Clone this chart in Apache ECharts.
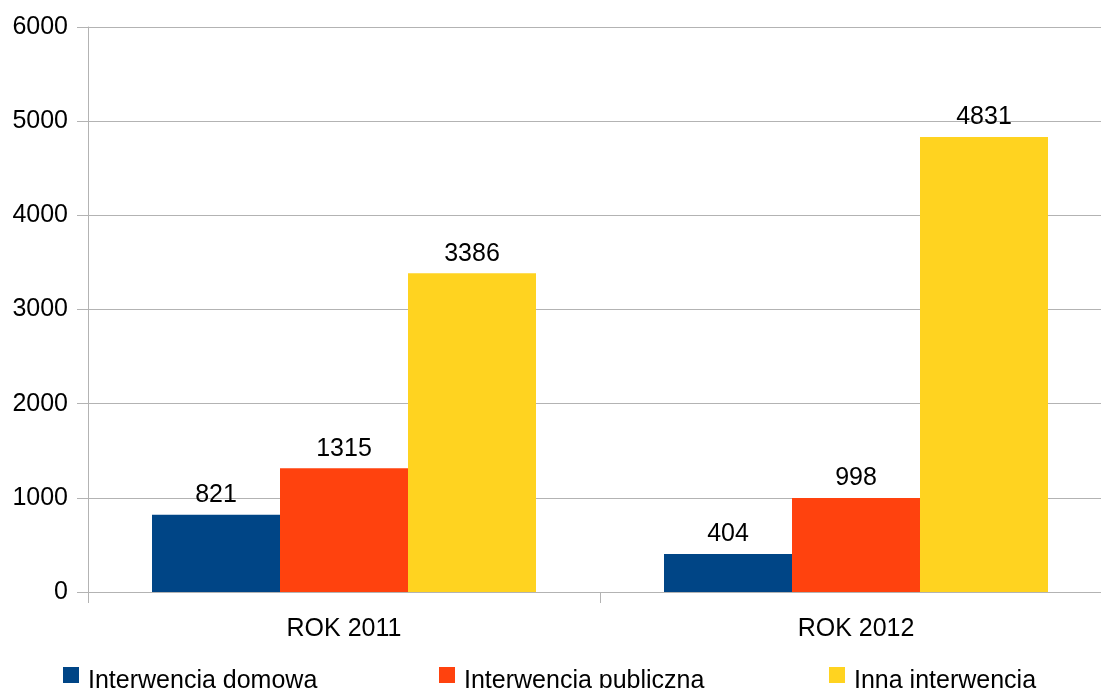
<!DOCTYPE html>
<html>
<head>
<meta charset="utf-8">
<script src="https://cdn.jsdelivr.net/npm/echarts@6/dist/echarts.min.js"></script>
<style>
html,body{margin:0;padding:0;background:#fff;}
#chart{width:1101px;height:688px;}
</style>
</head>
<body>
<div id="chart"></div>
<script>
var categories = ['ROK 2011', 'ROK 2012'];
var seriesNames = ['Interwencja domowa', 'Interwencja publiczna', 'Inna interwencja'];
var domowa = [821, 404];
var publiczna = [1315, 998];
var inna = [3386, 4831];
var yTicks = [0, 1000, 2000, 3000, 4000, 5000, 6000];

var colors = ['#004586', '#ff420e', '#ffd320'];
var FONT = 'Liberation Sans, Arial, sans-serif';
var values = [domowa, publiczna, inna];
var legendLefts = [63, 439, 829];

var chart = echarts.init(document.getElementById('chart'));
var option = {
  animation: false,
  backgroundColor: '#ffffff',
  textStyle: {fontFamily: FONT},
  grid: {left: 88, width: 1024, top: 27, bottom: 96, containLabel: false, outerBoundsMode: 'none'},
  legend: seriesNames.map(function (n, i) {
    return {
      data: [n],
      left: legendLefts[i],
      top: 667,
      padding: 0,
      itemWidth: 16,
      itemHeight: 16,
      icon: 'rect',
      formatter: function (name) { return '{a|' + name + '}'; },
      textStyle: {fontSize: 25, color: '#000', fontFamily: FONT, padding: [0, 0, 0, 4],
        rich: {a: {fontSize: 25, color: '#000', fontFamily: FONT, padding: [12, 0, 0, 0]}}}
    };
  }),
  xAxis: {
    type: 'category',
    data: categories,
    axisLine: {lineStyle: {color: '#b3b3b3', width: 1}},
    axisTick: {show: true, length: 11, lineStyle: {color: '#b3b3b3'}},
    axisLabel: {fontSize: 25, color: '#000', margin: 25, fontFamily: FONT}
  },
  yAxis: {
    type: 'value',
    min: yTicks[0],
    max: yTicks[yTicks.length - 1],
    interval: 1000,
    axisLine: {show: true, lineStyle: {color: '#b3b3b3', width: 1}},
    axisTick: {show: true, length: 11, lineStyle: {color: '#b3b3b3'}},
    axisLabel: {fontSize: 25, color: '#000', margin: 20, fontFamily: FONT,
      formatter: function (v) { return String(v); }},
    splitLine: {show: true, lineStyle: {color: '#b3b3b3', width: 1}}
  },
  series: seriesNames.map(function (n, i) {
    return {
      name: n,
      type: 'bar',
      data: values[i],
      barGap: '0%',
      barCategoryGap: '25%',
      itemStyle: {color: colors[i]},
      label: {show: true, position: 'top', distance: 7, fontSize: 25, color: '#000', fontFamily: FONT}
    };
  })
};
chart.setOption(option);
</script>
</body>
</html>
